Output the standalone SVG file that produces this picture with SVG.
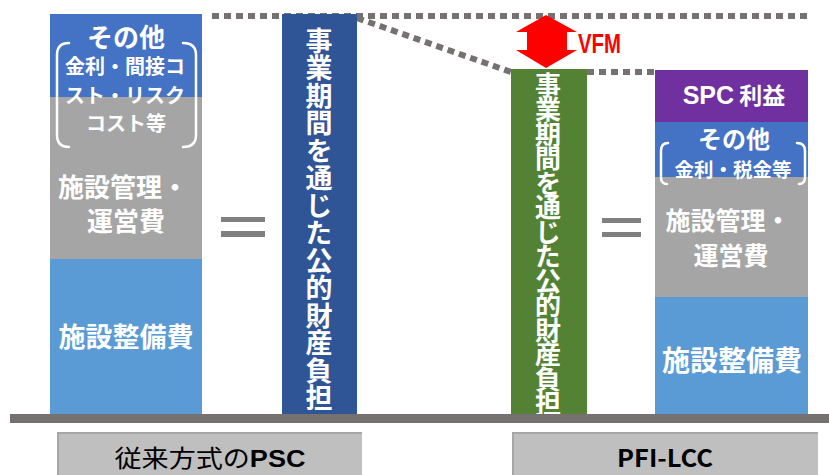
<svg xmlns="http://www.w3.org/2000/svg" width="829" height="475" viewBox="0 0 829 475">
<defs>
<style>
.w{fill:#ffffff;font-family:"Noto Sans CJK JP","Liberation Sans",sans-serif;font-weight:bold;text-anchor:middle}
.lat{font-family:"Liberation Sans","Noto Sans CJK JP",sans-serif;font-weight:bold}
.vt{writing-mode:vertical-rl;fill:#ffffff;font-family:"Noto Sans CJK JP",sans-serif;font-weight:bold}
.br{fill:none;stroke:#ffffff;stroke-width:2.5;stroke-linecap:round}
.dot{fill:none;stroke:#767171;stroke-width:6;stroke-dasharray:7 5}
.eq{fill:#808080}
.lbl{fill:#bfbfbf}
.lt{fill:#000000;font-family:"Noto Sans CJK JP","Liberation Sans",sans-serif;font-size:24px;text-anchor:middle}
</style>
</defs>
<rect width="829" height="475" fill="#ffffff"/>

<g id="connectors">
<line class="dot" x1="212" y1="16" x2="808" y2="16"/>
<line class="dot" x1="357" y1="18" x2="511" y2="72"/>
<line class="dot" x1="587" y1="72" x2="655" y2="72"/>
</g>

<g id="psc-column">
<rect x="50" y="14" width="152" height="83" fill="#4472c4"/>
<rect x="50" y="97" width="152" height="162" fill="#a5a5a5"/>
<rect x="50" y="259" width="152" height="155" fill="#5b9bd5"/>
<text class="w" x="126" y="47" font-size="26">その他</text>
<path class="br" d="M69 43 Q57 43 57 55 L57 135 Q57 147 69 147"/>
<path class="br" d="M183 43 Q196 43 196 55 L196 135 Q196 147 183 147"/>
<text class="w" x="125" y="74" font-size="20">金利・間接コ</text>
<text class="w" x="125" y="103" font-size="20">スト・リスク</text>
<text class="w" x="126" y="131" font-size="20">コスト等</text>
<text class="w" x="123" y="197" font-size="26">施設管理・</text>
<text class="w" x="126" y="231" font-size="26">運営費</text>
<text class="w" x="126" y="347" font-size="27">施設整備費</text>
</g>

<g id="eq-left">
<rect class="eq" x="221" y="217" width="44" height="5"/>
<rect class="eq" x="221" y="231" width="44" height="6"/>
</g>

<g id="psc-total">
<rect x="282" y="14" width="75" height="400" fill="#2f5597"/>
<text class="vt" x="319" y="27" font-size="27" letter-spacing="0.5">事業期間を通じた公的財産負担</text>
</g>

<g id="lcc-total">
<rect x="511" y="69" width="76" height="345" fill="#548235"/>
<text class="vt" x="548" y="72" font-size="26" letter-spacing="-1.5">事業期間を通じた公的財産負担</text>
</g>

<g id="vfm">
<polygon points="546,15 577,32 567,32 567,50 577,50 546,68 516,50 527,50 527,32 516,32" fill="#ff0000"/>
<text class="lat" x="578" y="53" font-size="27" fill="#ff0000" textLength="43" lengthAdjust="spacingAndGlyphs">VFM</text>
</g>

<g id="eq-right">
<rect class="eq" x="602" y="218" width="39" height="5"/>
<rect class="eq" x="602" y="232" width="39" height="5"/>
</g>

<g id="lcc-column">
<rect x="655" y="70" width="153" height="52" fill="#7030a0"/>
<rect x="655" y="122" width="153" height="55" fill="#4472c4"/>
<rect x="655" y="177" width="153" height="120" fill="#a5a5a5"/>
<rect x="655" y="297" width="153" height="117" fill="#5b9bd5"/>
<text class="w" x="734" y="104" font-size="23"><tspan class="lat" font-size="25">SPC</tspan> 利益</text>
<text class="w" x="734" y="148" font-size="24">その他</text>
<path class="br" d="M668 143 Q661 143 661 151 L661 177 Q661 184 667 184"/>
<path class="br" d="M797 143 Q805 143 805 151 L805 177 Q805 184 799 184"/>
<text class="w" x="733" y="177" font-size="19.5">金利・税金等</text>
<text class="w" x="728" y="230" font-size="25">施設管理・</text>
<text class="w" x="731" y="265" font-size="25">運営費</text>
<text class="w" x="732" y="371" font-size="28">施設整備費</text>
</g>

<g id="ground">
<rect x="10" y="414" width="819" height="9" fill="#767171"/>
</g>

<g id="label-psc">
<rect class="lbl" x="58" y="433" width="304" height="42"/>
<path d="M58 475 L58 433 L362 433" fill="none" stroke="#a6a6a6" stroke-width="2"/>
<text class="lt" x="210" y="467" textLength="191" lengthAdjust="spacingAndGlyphs">従来方式の<tspan class="lat">PSC</tspan></text>
</g>

<g id="label-lcc">
<rect class="lbl" x="513" y="433" width="305" height="42"/>
<path d="M513 475 L513 433 L818 433" fill="none" stroke="#a6a6a6" stroke-width="2"/>
<text class="lt lat" x="665" y="467" font-size="26" textLength="96" lengthAdjust="spacingAndGlyphs">PFI-LCC</text>
</g>
</svg>
